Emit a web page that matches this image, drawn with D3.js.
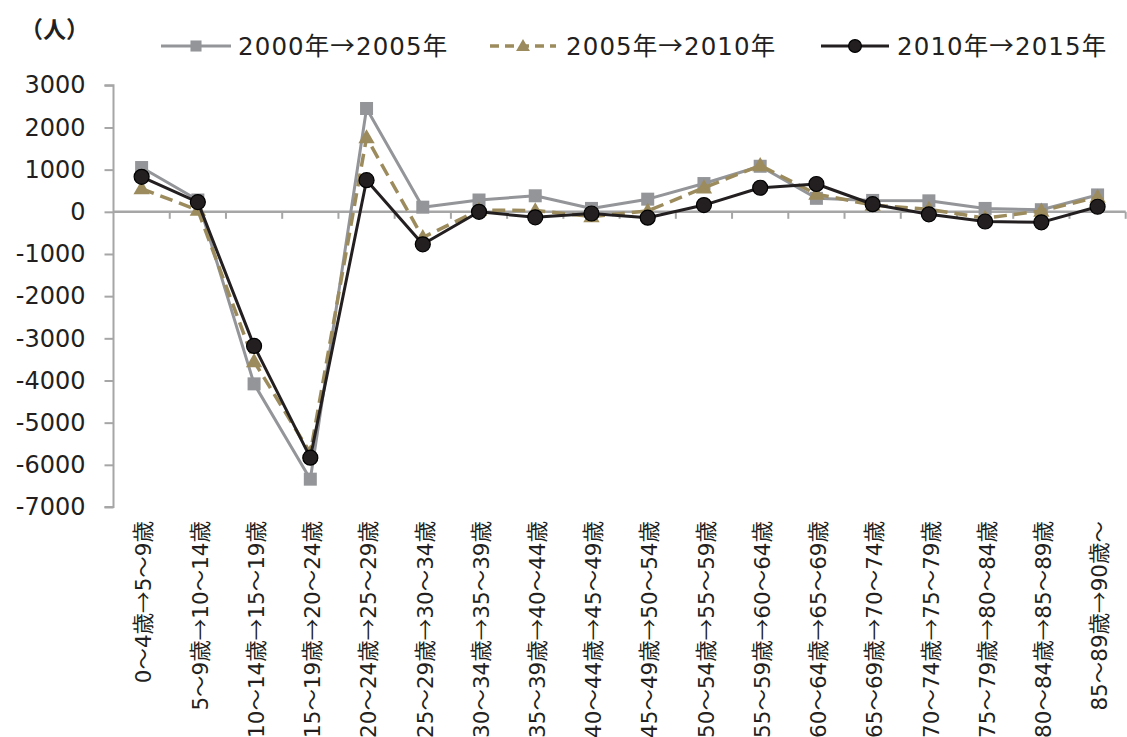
<!DOCTYPE html>
<html>
<head>
<meta charset="utf-8">
<script src="https://cdn.jsdelivr.net/npm/d3@7"></script>
<style>
  html, body { margin: 0; padding: 0; background: #fff; }
  svg { display: block; }
  text { font-family: "DejaVu Sans", "Noto Sans CJK JP", sans-serif; fill: #231f20; }
  tspan.cjk { font-family: "Noto Sans CJK JP", sans-serif; }
</style>
</head>
<body>
<svg id="chart" width="1127" height="737"></svg>
<script>
// Age cohort transitions (5-year steps)
const categories = [
  "0～4歳→5～9歳", "5～9歳→10～14歳", "10～14歳→15～19歳", "15～19歳→20～24歳",
  "20～24歳→25～29歳", "25～29歳→30～34歳", "30～34歳→35～39歳", "35～39歳→40～44歳",
  "40～44歳→45～49歳", "45～49歳→50～54歳", "50～54歳→55～59歳", "55～59歳→60～64歳",
  "60～64歳→65～69歳", "65～69歳→70～74歳", "70～74歳→75～79歳", "75～79歳→80～84歳",
  "80～84歳→85～89歳", "85～89歳→90歳～"
];

// Net change in persons for each period
const values2000to2005 = [1050, 280, -4080, -6340, 2450, 110, 280, 380, 80, 300, 670, 1080, 320, 270, 260, 80, 50, 400];
const values2005to2010 = [550, 40, -3550, -5720, 1760, -610, 40, 30, -110, 20, 570, 1100, 420, 160, 60, -150, 20, 350];
const values2010to2015 = [830, 230, -3180, -5830, 750, -770, 0, -130, -40, -140, 160, 570, 660, 180, -60, -230, -250, 120];

const seriesNames = ["2000年→2005年", "2005年→2010年", "2010年→2015年"];
const yTicks = [3000, 2000, 1000, 0, -1000, -2000, -3000, -4000, -5000, -6000, -7000];
const unitLabel = "（人）";

const series = [
  { name: seriesNames[0], values: values2000to2005, color: "#939598", dash: null, marker: "square" },
  { name: seriesNames[1], values: values2005to2010, color: "#9c8b5c", dash: "13,7", marker: "triangle" },
  { name: seriesNames[2], values: values2010to2015, color: "#231f20", dash: null, marker: "circle" }
];

const svg = d3.select("#chart");
const axisColor = "#a6a6a6";

const x = d3.scaleBand().domain(categories).range([113.5, 1125.7]).padding(0);
const y = d3.scaleLinear().domain([-7000, 3000]).range([507, 85.3]);
const cx = c => x(c) + x.bandwidth() / 2;

// Writes a label, setting arrows in the CJK face so they come out full width
function setLabel(sel, str) {
  str.split(/(→)/).forEach(part => {
    if (!part) return;
    const t = sel.append("tspan").text(part);
    if (part === "→") t.attr("class", "cjk");
  });
}

// Y axis
const yAxis = d3.axisLeft(y)
  .tickValues(yTicks)
  .tickSize(9)
  .tickPadding(19)
  .tickFormat(d => String(d));
const gy = svg.append("g").attr("transform", "translate(113.5,0)").call(yAxis);
gy.select(".domain").attr("stroke", axisColor).attr("stroke-width", 2).attr("d", `M-9,${y(3000)}H0V${y(-7000)}H-9`);
gy.selectAll(".tick line").attr("stroke", axisColor).attr("stroke-width", 2);
gy.selectAll(".tick text")
  .style("font-family", '"DejaVu Sans", sans-serif')
  .style("font-size", "24px")
  .attr("fill", "#231f20");

// Zero line with category boundary ticks
const y0 = y(0);
const gx = svg.append("g");
gx.append("line")
  .attr("x1", x.range()[0]).attr("x2", x.range()[1])
  .attr("y1", y0).attr("y2", y0)
  .attr("stroke", axisColor).attr("stroke-width", 2.5);
gx.selectAll("line.tk")
  .data(categories)
  .join("line")
  .attr("class", "tk")
  .attr("x1", c => x(c) + x.step()).attr("x2", c => x(c) + x.step())
  .attr("y1", y0).attr("y2", y0 + 7)
  .attr("stroke", axisColor).attr("stroke-width", 2);

// Category labels (rotated)
svg.append("g").selectAll("text")
  .data(categories)
  .join("text")
  .attr("transform", c => `translate(${cx(c) + 2},521) rotate(-90)`)
  .attr("text-anchor", "end")
  .attr("dy", "0.36em")
  .style("font-size", "21.5px")
  .each(function (c) { setLabel(d3.select(this), c); });

// Markers
function drawMarker(g, type, color, px, py, scale) {
  const s = scale || 1;
  if (type === "square") {
    g.append("rect")
      .attr("x", px - 6.5 * s).attr("y", py - 6.5 * s)
      .attr("width", 13 * s).attr("height", 13 * s)
      .attr("fill", color);
  } else if (type === "triangle") {
    g.append("path")
      .attr("d", d3.symbol(d3.symbolTriangle, 115 * s * s)())
      .attr("transform", `translate(${px},${py + 1})`)
      .attr("fill", color);
  } else {
    g.append("circle")
      .attr("cx", px).attr("cy", py).attr("r", 7.5 * s)
      .attr("fill", "#231f20").attr("stroke", "#000").attr("stroke-width", 1.2);
  }
}

const line = d3.line().x(d => cx(d.c)).y(d => y(d.v));

series.forEach(s => {
  const pts = categories.map((c, i) => ({ c, v: s.values[i] }));
  const g = svg.append("g");
  g.append("path")
    .datum(pts)
    .attr("d", line)
    .attr("fill", "none")
    .attr("stroke", s.color)
    .attr("stroke-width", s.marker === "triangle" ? 3.5 : 3)
    .attr("stroke-dasharray", s.dash)
    .attr("stroke-linejoin", "round");
  pts.forEach(p => drawMarker(g, s.marker, s.color, cx(p.c), y(p.v)));
});

// Unit label
svg.append("text")
  .attr("x", 20).attr("y", 38)
  .style("font-family", '"Noto Sans CJK JP", sans-serif')
  .style("font-size", "23px")
  .style("font-weight", "bold")
  .text(unitLabel);

// Legend
const legendItems = [
  { x1: 161, x2: 231, tx: 238 },
  { x1: 490, x2: 556, tx: 566 },
  { x1: 821, x2: 889, tx: 897 }
];
const ly = 46;
series.forEach((s, i) => {
  const L = legendItems[i];
  const g = svg.append("g");
  g.append("line")
    .attr("x1", L.x1).attr("x2", L.x2).attr("y1", ly).attr("y2", ly)
    .attr("stroke", s.color).attr("stroke-width", s.marker === "triangle" ? 3.5 : 3)
    .attr("stroke-dasharray", s.dash ? "9,6" : null);
  drawMarker(g, s.marker, s.color, (L.x1 + L.x2) / 2, ly, 0.85);
  const t = g.append("text")
    .attr("x", L.tx).attr("y", ly)
    .attr("dy", "0.36em")
    .style("font-size", "24.5px")
    .style("letter-spacing", "1.1px");
  setLabel(t, s.name);
});
</script>
</body>
</html>
